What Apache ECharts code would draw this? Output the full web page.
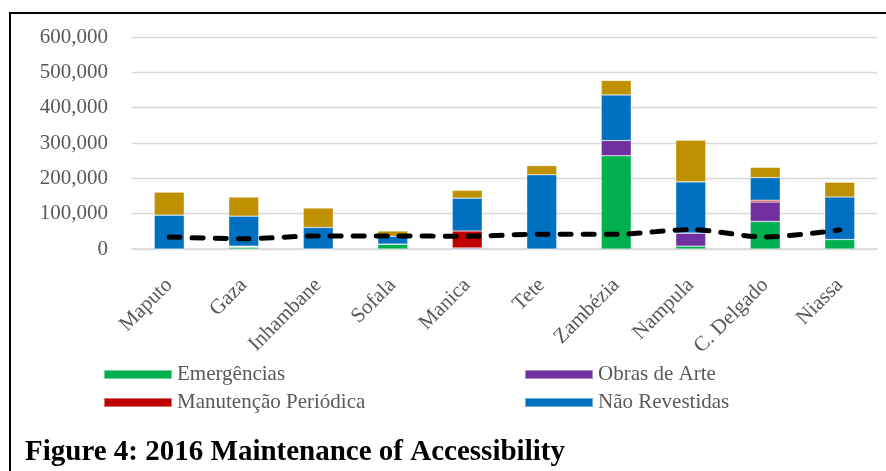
<!DOCTYPE html>
<html>
<head>
<meta charset="utf-8">
<script src="https://cdn.jsdelivr.net/npm/echarts@6/dist/echarts.min.js"></script>
<style>
  html, body { margin: 0; padding: 0; background: #fff; }
  #chart { width: 886px; height: 471px; }
</style>
</head>
<body>
<div id="chart"></div>
<script>
// Provinces
const provinces = ['Maputo', 'Gaza', 'Inhambane', 'Sofala', 'Manica', 'Tete', 'Zambézia', 'Nampula', 'C. Delgado', 'Niassa'];

// Stacked bar values
const emergencias   = [0,     5000,  0,     14000, 0,     0,      264000, 8000,   78000, 27000];
const obrasDeArte   = [0,     2000,  0,     0,     3000,  0,      43000,  37000,  55000, 0];
const manutencao    = [0,     1000,  0,     0,     48000, 0,      0,      0,      5000,  0];
const naoRevestidas = [96000, 85000, 61000, 22000, 93000, 210000, 129000, 145000, 64000, 120000];
const outros        = [65000, 54000, 55000, 15000, 22000, 26000,  41000,  118000, 29000, 42000];

// Dashed line
const trend = [34000, 29000, 37000, 37000, 36000, 42000, 42000, 55000, 34000, 54000];

const yTicks = [0, 100000, 200000, 300000, 400000, 500000, 600000];

const GREY = '#595959';
const FONT = '"Liberation Serif", "Times New Roman", serif';

const chart = echarts.init(document.getElementById('chart'));

function barSeries(name, data, color) {
    return {
        name: name,
        type: 'bar',
        stack: 'total',
        barWidth: 30,
        data: data,
        itemStyle: { color: color, borderColor: 'rgba(255,255,255,0.45)', borderWidth: 0.6 },
        emphasis: { disabled: true }
    };
}

const legendText = { color: GREY, fontSize: 21, fontFamily: FONT, lineHeight: 21 };

chart.setOption({
    animation: false,
    textStyle: { fontFamily: FONT },
    grid: { left: 132, right: 9, top: 37, bottom: 222, containLabel: false },
    legend: [
        {
            data: ['Emergências', 'Manutenção Periódica'],
            orient: 'vertical',
            left: 98, top: 359,
            itemWidth: 68, itemHeight: 9, itemGap: 7,
            icon: 'rect',
            textStyle: legendText
        },
        {
            data: ['Obras de Arte', 'Não Revestidas'],
            orient: 'vertical',
            left: 519, top: 359,
            itemWidth: 68, itemHeight: 9, itemGap: 7,
            icon: 'rect',
            textStyle: legendText
        }
    ],
    xAxis: {
        type: 'category',
        data: provinces,
        axisLine: { lineStyle: { color: '#d9d9d9', width: 1.5 } },
        axisTick: { show: false },
        axisLabel: {
            interval: 0, rotate: 45, margin: 33,
            color: GREY, fontSize: 21, fontFamily: FONT
        }
    },
    yAxis: {
        type: 'value',
        min: yTicks[0], max: yTicks[yTicks.length - 1], interval: 100000,
        axisLine: { show: false },
        axisTick: { show: false },
        splitLine: { lineStyle: { color: '#d9d9d9', width: 1.3 } },
        axisLabel: {
            margin: 24, color: GREY, fontSize: 21, fontFamily: FONT,
            formatter: v => v.toLocaleString('en-US')
        }
    },
    series: [
        barSeries('Emergências', emergencias, '#00B050'),
        barSeries('Obras de Arte', obrasDeArte, '#7030A0'),
        barSeries('Manutenção Periódica', manutencao, '#C00000'),
        barSeries('Não Revestidas', naoRevestidas, '#0070C0'),
        barSeries('Outros', outros, '#BF9000'),
        {
            name: 'Total',
            type: 'line',
            data: trend,
            smooth: 0.3,
            showSymbol: false,
            z: 5,
            lineStyle: { color: '#000', width: 5, type: [11, 12], cap: 'round' },
            emphasis: { disabled: true }
        }
    ],
    graphic: [
        { type: 'line', shape: { x1: 10, y1: 13, x2: 886, y2: 13 }, style: { stroke: '#000', lineWidth: 2 } },
        { type: 'line', shape: { x1: 10, y1: 12, x2: 10, y2: 471 }, style: { stroke: '#000', lineWidth: 2 } },
        {
            type: 'text', left: 25, top: 438,
            style: { text: 'Figure 4: 2016 Maintenance of Accessibility', font: 'bold 29px ' + FONT, fill: '#000' }
        }
    ]
});
</script>
</body>
</html>
